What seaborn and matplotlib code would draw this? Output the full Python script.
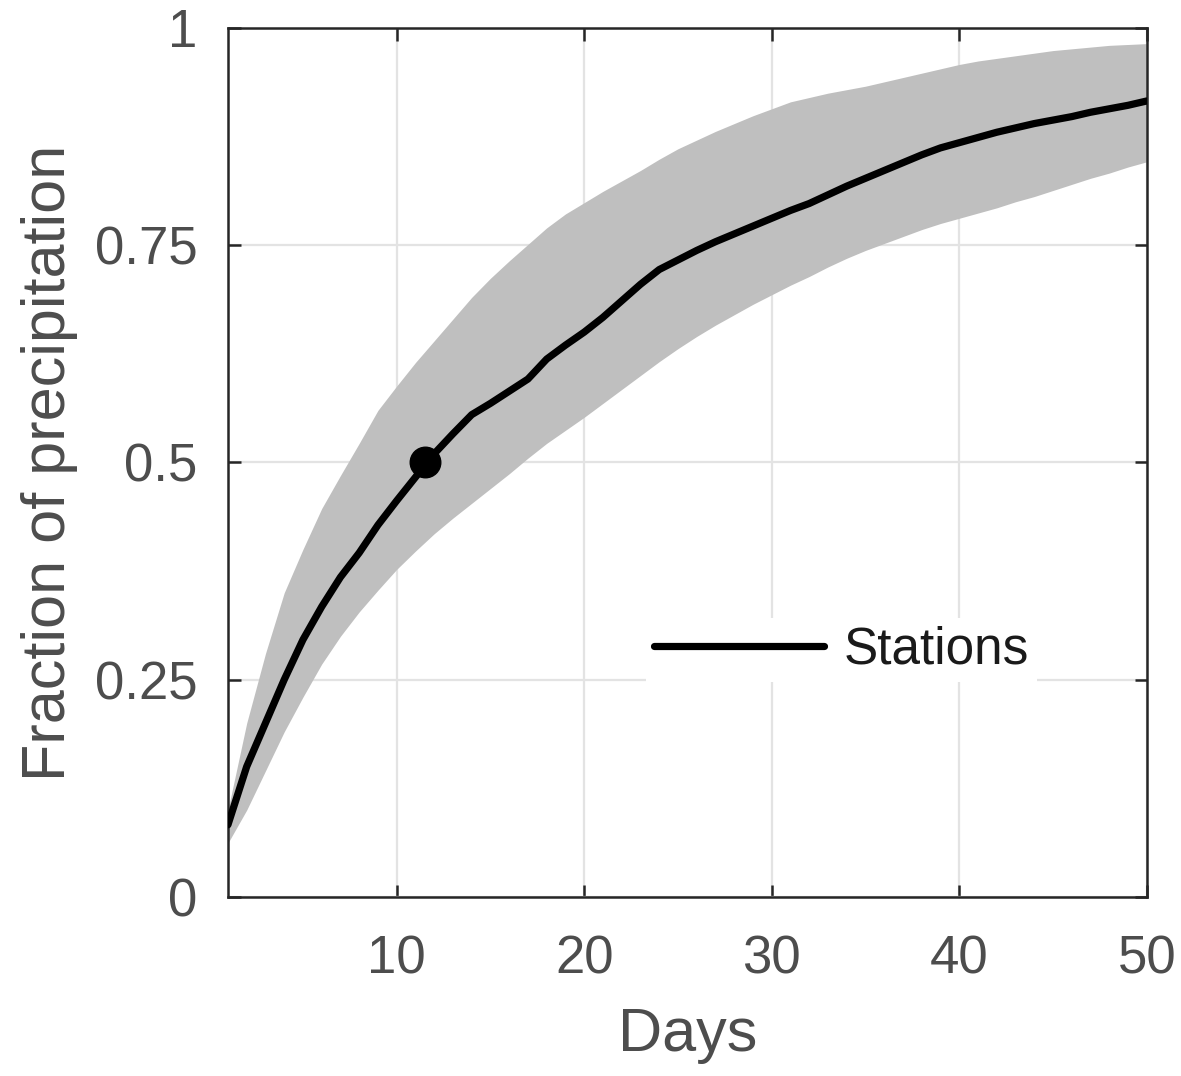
import numpy as np
import pandas as pd
import matplotlib
matplotlib.use("Agg")
import matplotlib.pyplot as plt
import seaborn as sns

days = list(range(1, 51))
station_mean = [0.083, 0.150, 0.200, 0.250, 0.296, 0.334, 0.368, 0.396, 0.428, 0.456,
                0.483, 0.510, 0.533, 0.555, 0.568, 0.582, 0.596, 0.619, 0.635, 0.650,
                0.667, 0.686, 0.705, 0.722, 0.733, 0.744, 0.754, 0.763, 0.772, 0.781,
                0.790, 0.798, 0.808, 0.818, 0.827, 0.836, 0.845, 0.854, 0.862, 0.868,
                0.874, 0.880, 0.885, 0.890, 0.894, 0.898, 0.903, 0.907, 0.911, 0.916]
band_upper = [0.100, 0.200, 0.280, 0.350, 0.400, 0.447, 0.485, 0.522, 0.560, 0.588,
              0.615, 0.640, 0.665, 0.690, 0.712, 0.732, 0.751, 0.770, 0.786, 0.799,
              0.812, 0.824, 0.836, 0.849, 0.861, 0.871, 0.881, 0.890, 0.899, 0.907,
              0.915, 0.920, 0.925, 0.929, 0.933, 0.938, 0.943, 0.948, 0.953, 0.958,
              0.962, 0.965, 0.968, 0.971, 0.974, 0.976, 0.978, 0.980, 0.981, 0.982]
band_lower = [0.062, 0.100, 0.145, 0.190, 0.230, 0.268, 0.300, 0.328, 0.353, 0.377,
              0.398, 0.418, 0.436, 0.453, 0.470, 0.487, 0.505, 0.522, 0.537, 0.552,
              0.568, 0.584, 0.600, 0.616, 0.631, 0.645, 0.658, 0.670, 0.682, 0.693,
              0.704, 0.714, 0.725, 0.735, 0.744, 0.752, 0.760, 0.768, 0.775, 0.781,
              0.787, 0.793, 0.800, 0.806, 0.813, 0.820, 0.827, 0.833, 0.840, 0.846]
half_day = [11.5]
half_frac = [0.5]
xticks = [10, 20, 30, 40, 50]
yticks = [0, 0.25, 0.5, 0.75, 1]
yticklabels = ["0", "0.25", "0.5", "0.75", "1"]

sns.set_theme(style="whitegrid")
plt.rcParams['font.family'] = ['Liberation Sans', 'DejaVu Sans']

df = pd.DataFrame({"Days": days, "mean": station_mean})

fig = plt.figure(figsize=(11.81, 10.76), dpi=100)
ax = fig.add_axes([0.193, 0.1664, 0.778, 0.8076])

ax.fill_between(days, band_lower, band_upper, color="#bfbfbf", lw=0, zorder=2)
sns.lineplot(data=df, x="Days", y="mean", ax=ax, color="black", lw=5.2,
             label="Stations", zorder=3)
ax.plot(half_day, half_frac, "o", color="black", ms=22, zorder=4)

ax.set_xlim(1, 50)
ax.set_ylim(0, 1)
ax.set_xticks(xticks)
ax.set_yticks(yticks)
ax.set_yticklabels(yticklabels)

ax.grid(True, color="#e3e3e3", lw=1.6)
ax.set_axisbelow(True)
ax.set_facecolor("white")
for s in ax.spines.values():
    s.set_visible(True)
    s.set_color("#262626")
    s.set_linewidth(1.8)

ax.tick_params(direction="in", length=9, width=1.8, color="#262626",
               top=True, right=True, bottom=True, left=True,
               labelsize=38, labelcolor="#4d4d4d")
ax.tick_params(axis="x", pad=27)
ax.tick_params(axis="y", pad=22)

ax.set_xlabel("Days", fontsize=44, color="#4d4d4d", labelpad=16)
ax.set_ylabel("Fraction of precipitation", fontsize=44, color="#4d4d4d", labelpad=12)

leg = ax.legend(loc="center", bbox_to_anchor=(0.668, 0.284), frameon=True,
                fontsize=37, handlelength=3.3, handletextpad=0.4,
                borderpad=0.15, fancybox=False)
leg.get_frame().set_facecolor("white")
leg.get_frame().set_edgecolor("none")
leg.get_frame().set_alpha(1)
for t in leg.get_texts():
    t.set_color("#1a1a1a")

fig.savefig("out.png", dpi=100)
